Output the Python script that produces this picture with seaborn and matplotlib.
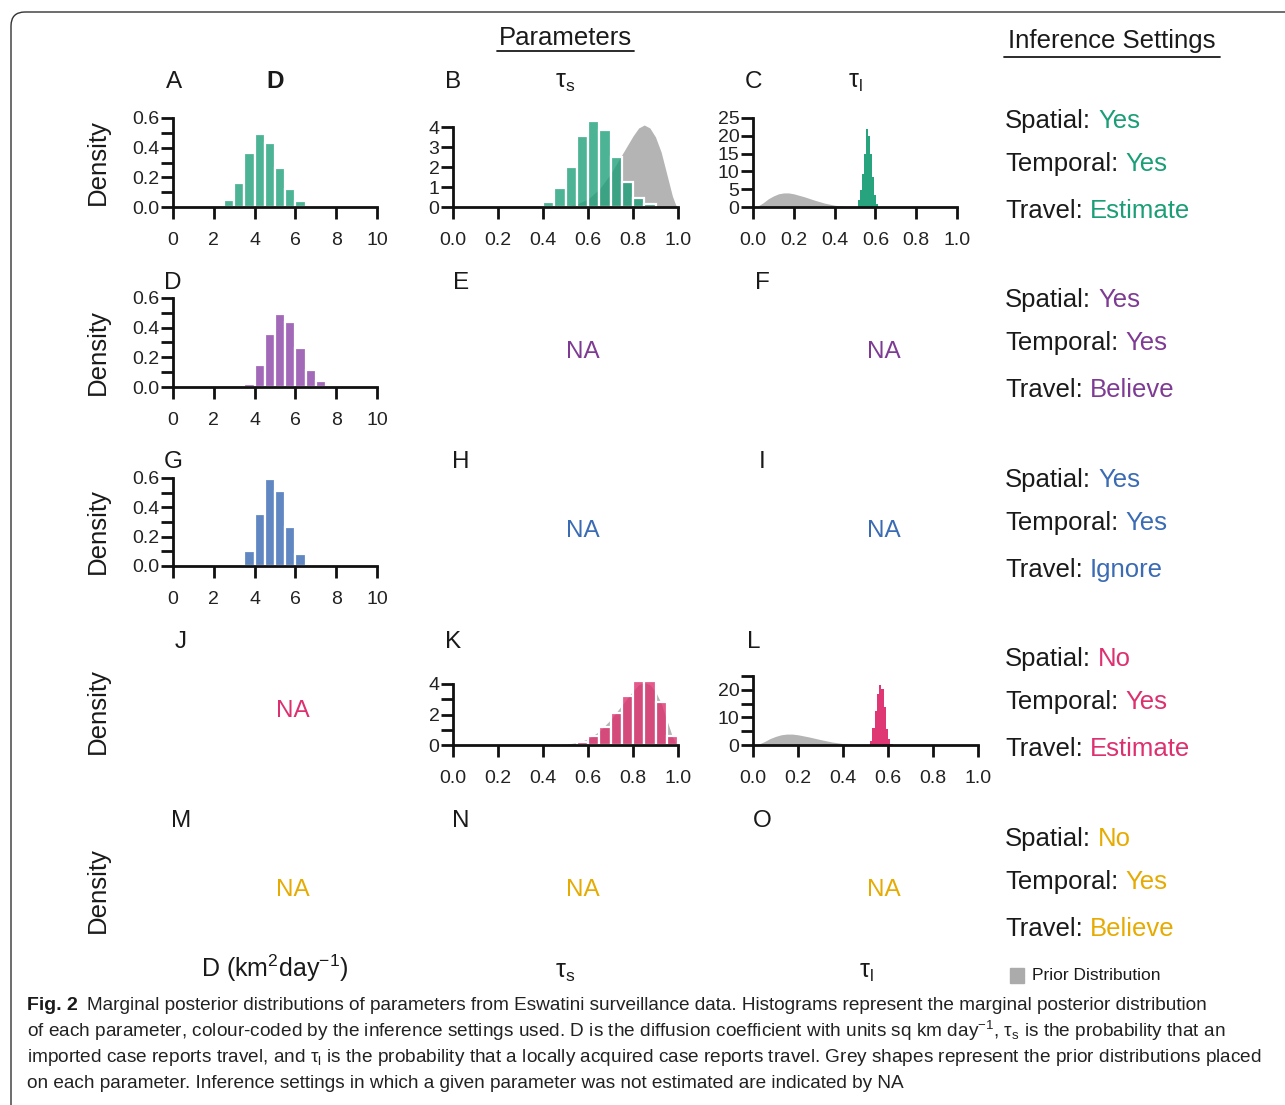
import matplotlib
matplotlib.use("Agg")
import matplotlib.pyplot as plt
import numpy as np
import pandas as pd
import seaborn as sns
from matplotlib.lines import Line2D
from matplotlib.patches import FancyBboxPatch, Rectangle
from matplotlib.ticker import MultipleLocator

# posterior densities per bin
d_edges_est = [2.5, 3.0, 3.5, 4.0, 4.5, 5.0, 5.5, 6.0, 6.5]
d_est = [0.044, 0.164, 0.362, 0.493, 0.431, 0.26, 0.118, 0.038]
d_edges_bel = [3.5, 4.0, 4.5, 5.0, 5.5, 6.0, 6.5, 7.0, 7.5]
d_bel = [0.023, 0.15, 0.355, 0.49, 0.436, 0.26, 0.115, 0.043]
d_edges_ign = [3.5, 4.0, 4.5, 5.0, 5.5, 6.0, 6.5]
d_ign = [0.104, 0.352, 0.59, 0.513, 0.263, 0.081]

ts_edges_est = [0.40, 0.45, 0.50, 0.55, 0.60, 0.65, 0.70, 0.75, 0.80, 0.85, 0.90]
ts_est = [0.26, 0.94, 2.02, 3.57, 4.30, 3.83, 2.50, 1.26, 0.45, 0.13]
ts_edges_nosp = [0.55, 0.60, 0.65, 0.70, 0.75, 0.80, 0.85, 0.90, 0.95, 1.00]
ts_nosp = [0.22, 0.58, 1.15, 2.10, 3.22, 4.17, 4.22, 2.85, 0.58]

tl_edges_est = [0.515, 0.525, 0.535, 0.545, 0.555, 0.565, 0.575, 0.585, 0.595, 0.605, 0.615]
tl_est = [1.9, 4.7, 9.4, 15.0, 21.8, 20.0, 15.0, 8.4, 3.3, 0.9]
tl_edges_nosp = [0.52, 0.53, 0.54, 0.55, 0.56, 0.57, 0.58, 0.59, 0.60, 0.61, 0.62]
tl_nosp = [1.5, 6.3, 12.4, 18.4, 21.8, 20.2, 13.6, 5.7, 2.1, 0.5]

# prior curves (grey shapes)
prior_ts_x = [0.45, 0.5, 0.55, 0.6, 0.65, 0.7, 0.75, 0.8, 0.825, 0.85, 0.875, 0.9, 0.925, 0.95, 0.975, 0.99, 1.0]
prior_ts_y = [0.0, 0.05, 0.15, 0.4, 0.9, 1.65, 2.6, 3.55, 3.95, 4.1, 3.95, 3.5, 2.75, 1.65, 0.55, 0.1, 0.0]
prior_tl_x = [0.0, 0.025, 0.05, 0.075, 0.1, 0.125, 0.15, 0.175, 0.2, 0.25, 0.3, 0.35, 0.4, 0.45, 0.5]
prior_tl_y = [0.0, 0.3, 1.2, 2.3, 3.1, 3.7, 3.95, 3.95, 3.7, 2.9, 1.95, 1.1, 0.5, 0.15, 0.0]

settings = [("Yes", "Yes", "Estimate"), ("Yes", "Yes", "Believe"), ("Yes", "Yes", "Ignore"),
            ("No", "Yes", "Estimate"), ("No", "Yes", "Believe")]
bar_cols = ["#1B9E77", "#8A3FA6", "#3466B2", "#DD2C6C", "#E6AB02"]
txt_cols = ["#1B9E77", "#7E3B93", "#3A6BB3", "#DC3070", "#E6AB02"]
letters = [["A", "B", "C"], ["D", "E", "F"], ["G", "H", "I"], ["J", "K", "L"], ["M", "N", "O"]]

W, H = 1285, 1105
sns.set_style("ticks")
plt.rcParams["font.family"] = ["Liberation Sans", "DejaVu Sans"]
plt.rcParams["mathtext.fontset"] = "custom"
plt.rcParams["mathtext.rm"] = "Liberation Sans"
plt.rcParams["mathtext.it"] = "Liberation Sans:italic"
plt.rcParams["mathtext.bf"] = "Liberation Sans:bold"

fig = plt.figure(figsize=(W / 100, H / 100), dpi=100)
fig.set_facecolor("white")
bg = fig.add_axes([0, 0, 1, 1])
bg.set_axis_off()
bg.set_xlim(0, W)
bg.set_ylim(H, 0)

TXT = "#1a1a1a"


def panel(left, right, base, top):
    return fig.add_axes([left / W, 1 - base / H, (right - left) / W, (base - top) / H])


def style(ax, xmax, xstep, ytop, ymaj, ymin=None):
    ax.set_xlim(0, xmax)
    ax.set_ylim(0, ytop)
    ax.xaxis.set_major_locator(MultipleLocator(xstep))
    ax.yaxis.set_major_locator(MultipleLocator(ymaj))
    if ymin:
        ax.yaxis.set_minor_locator(MultipleLocator(ymin))
    ax.tick_params(axis="y", which="both", length=8.3, width=2, pad=1.5, labelsize=14,
                   colors="#111111", labelcolor="#222222")
    ax.tick_params(axis="x", length=8.3, width=2, pad=10, labelsize=14,
                   colors="#111111", labelcolor="#222222")
    ax.tick_params(axis="x", which="minor", bottom=False)
    sns.despine(ax=ax)
    for s in ("left", "bottom"):
        ax.spines[s].set_linewidth(2)
        ax.spines[s].set_color("#111111")
    ax.set_xlabel("")
    ax.set_ylabel("")
    ax.patch.set_alpha(0)


def hist(ax, edges, vals, color, alpha=0.78, lw=1.6):
    e = np.array(edges)
    df = pd.DataFrame({"x": (e[:-1] + e[1:]) / 2, "w": vals})
    sns.histplot(data=df, x="x", weights="w", bins=edges, stat="count", color=color,
                 alpha=alpha, edgecolor="white" if lw else "none", linewidth=lw, ax=ax)
    for p in ax.patches:
        p.set_clip_on(False)


def prior(ax, x, y):
    ax.fill_between(x, y, color="#B4B4B4", lw=0, zorder=0.8, clip_on=False)


# row 1
ax = panel(173, 377, 207, 118)
hist(ax, d_edges_est, d_est, bar_cols[0])
style(ax, 10, 2, 0.6, 0.2, 0.1)
ax = panel(453, 678, 207, 127)
prior(ax, prior_ts_x, prior_ts_y)
hist(ax, ts_edges_est, ts_est, bar_cols[0])
style(ax, 1.0, 0.2, 4, 1)
ax = panel(753, 957, 207, 118)
prior(ax, prior_tl_x, prior_tl_y)
hist(ax, tl_edges_est, tl_est, bar_cols[0], alpha=0.95, lw=0)
style(ax, 1.0, 0.2, 25, 5)
# row 2, 3
ax = panel(173, 377, 387, 298)
hist(ax, d_edges_bel, d_bel, bar_cols[1])
style(ax, 10, 2, 0.6, 0.2, 0.1)
ax = panel(173, 377, 566, 478)
hist(ax, d_edges_ign, d_ign, bar_cols[2])
style(ax, 10, 2, 0.6, 0.2, 0.1)
# row 4
ax = panel(453, 678, 745, 684)
prior(ax, prior_ts_x, prior_ts_y)
hist(ax, ts_edges_nosp, ts_nosp, bar_cols[3])
style(ax, 1.0, 0.2, 4, 2, 1)
ax = panel(753, 978, 745, 676)
prior(ax, prior_tl_x, prior_tl_y)
hist(ax, tl_edges_nosp, tl_nosp, bar_cols[3], alpha=0.95, lw=0)
style(ax, 1.0, 0.2, 25, 10, 5)

# headers
bg.text(565, 38, "Parameters", ha="center", va="center", fontsize=18.5, color=TXT)
bg.add_line(Line2D([497, 634], [51, 51], color=TXT, lw=1.3))
bg.text(1112, 41, "Inference Settings", ha="center", va="center", fontsize=18.5, color=TXT)
bg.add_line(Line2D([1004, 1220], [57, 57], color=TXT, lw=1.3))

bg.text(275, 82, "D", ha="center", va="center", fontsize=17.5, fontweight="bold", color=TXT)
bg.text(565, 82, "τ$_\\mathrm{s}$", ha="center", va="center", fontsize=18, color=TXT)
bg.text(855, 82, "τ$_\\mathrm{l}$", ha="center", va="center", fontsize=18, color=TXT)

letter_x = [[174, 453, 754], [173, 461, 762], [173, 461, 762], [181, 453, 754], [181, 461, 762]]
row_y = [82, 283, 462, 642, 821]
for r in range(5):
    for c in range(3):
        bg.text(letter_x[r][c], row_y[r], letters[r][c], ha="center", va="center",
                fontsize=17.5, color=TXT)

dens_y = [162, 352, 531, 711, 890]
for y in dens_y:
    bg.text(98, y, "Density", rotation=90, ha="center", va="center", fontsize=18.5, color=TXT)

na_spots = [(1, 583, 352), (1, 884, 352), (2, 583, 531), (2, 884, 531), (3, 293, 711),
            (4, 293, 890), (4, 583, 890), (4, 884, 890)]
for r, x, y in na_spots:
    bg.text(x, y, "NA", ha="center", va="center", fontsize=17.5, color=txt_cols[r])

# inference settings column
set_y = [121, 300, 480, 659, 839]
for r in range(5):
    for k, (lab, dy) in enumerate([("Spatial:", 0), ("Temporal:", 43), ("Travel:", 90)]):
        t = bg.text(1005, set_y[r] + dy, lab, ha="left", va="center", fontsize=18.5, color=TXT)
        bg.annotate(settings[r][k], xy=(1, 0), xycoords=t, xytext=(5, 0),
                    textcoords="offset points", ha="left", va="bottom",
                    fontsize=18.5, color=txt_cols[r])

# bottom axis labels and legend
bg.text(275, 968, "D (km$^2$day$^{-1}$)", ha="center", va="center", fontsize=18, color=TXT)
bg.text(565, 972, "τ$_\\mathrm{s}$", ha="center", va="center", fontsize=18, color=TXT)
bg.text(866, 972, "τ$_\\mathrm{l}$", ha="center", va="center", fontsize=18, color=TXT)
bg.add_patch(Rectangle((1010, 968), 14, 15, color="#ABABAB"))
bg.text(1032, 976, "Prior Distribution", ha="left", va="center", fontsize=12.5, color=TXT)

# caption
cap = [
    "Marginal posterior distributions of parameters from Eswatini surveillance data. Histograms represent the marginal posterior distribution",
    "of each parameter, colour-coded by the inference settings used. D is the diffusion coefficient with units sq km day$^{-1}$, τ$_\\mathrm{s}$ is the probability that an",
    "imported case reports travel, and τ$_\\mathrm{l}$ is the probability that a locally acquired case reports travel. Grey shapes represent the prior distributions placed",
    "on each parameter. Inference settings in which a given parameter was not estimated are indicated by NA",
]
cap_y = [1005, 1031, 1057, 1083]
f2 = bg.text(27, cap_y[0], "Fig. 2", ha="left", va="center", fontsize=14, fontweight="bold", color=TXT)
bg.annotate(cap[0], xy=(1, 0), xycoords=f2, xytext=(7, 0), textcoords="offset points",
            ha="left", va="bottom", fontsize=13.7, color="#222222")
for line, y in zip(cap[1:], cap_y[1:]):
    bg.text(27, y, line, ha="left", va="center", fontsize=13.7, color="#222222")

# frame around the figure
fig.add_artist(FancyBboxPatch((0.11, -1.0), 14.0, (H - 12) / 100 + 1.0,
                              boxstyle="round,pad=0,rounding_size=0.14",
                              transform=fig.dpi_scale_trans, fill=False,
                              edgecolor="#333333", lw=1.0))

fig.savefig("out.png", dpi=100)
